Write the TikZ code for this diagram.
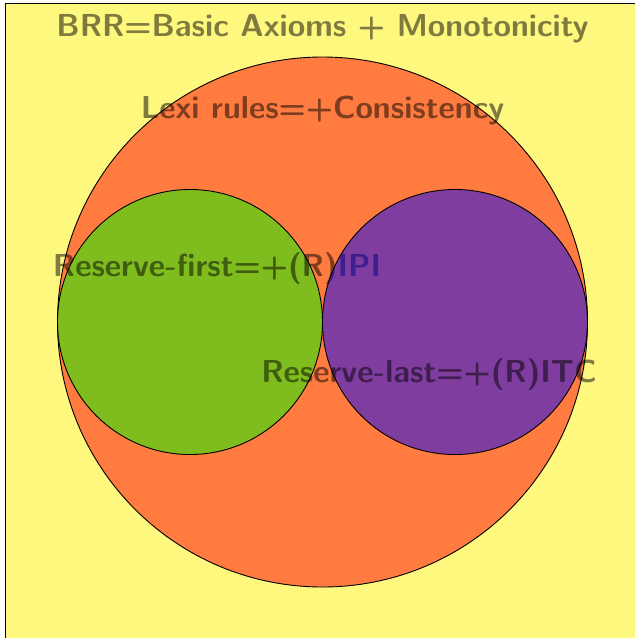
\documentclass[tikz,border=0pt]{standalone}
\begin{document}
\begin{tikzpicture}[x=1pt,y=-1pt,
  region/.style={draw=black,line width=0.9pt,fill opacity=0.5},
  label/.style={anchor=base,inner sep=0pt,text=black,text opacity=0.5,
    font=\fontsize{31.8}{38}\selectfont\sffamily\bfseries}]
  \useasboundingbox (0,0) rectangle (635,638);
  \clip (0,0) rectangle (635,638);
  \fill[white] (0,0) rectangle (635,638);
  % the universe of belief revision rules
  \draw[region,fill=yellow] (5,3) rectangle (680,680);
  \node[label] (brr) at (322.5,36) {BRR=Basic Axioms + Monotonicity};
  % lexicographic rules
  \draw[region,fill=red] (322.5,322) circle[radius=265pt];
  \node[label] (lexi) at (322.5,118) {Lexi rules=+Consistency};
  % reserve-first rules
  \draw[region,fill=green] (190,322) circle[radius=132.5pt];
  \node[label] (rfirst) at (217,276) {Reserve-first=+(R)IPI};
  % reserve-last rules
  \draw[region,fill=blue] (455,322) circle[radius=132.5pt];
  \node[label] (rlast) at (429,382) {Reserve-last=+(R)ITC};
\end{tikzpicture}
\end{document}
